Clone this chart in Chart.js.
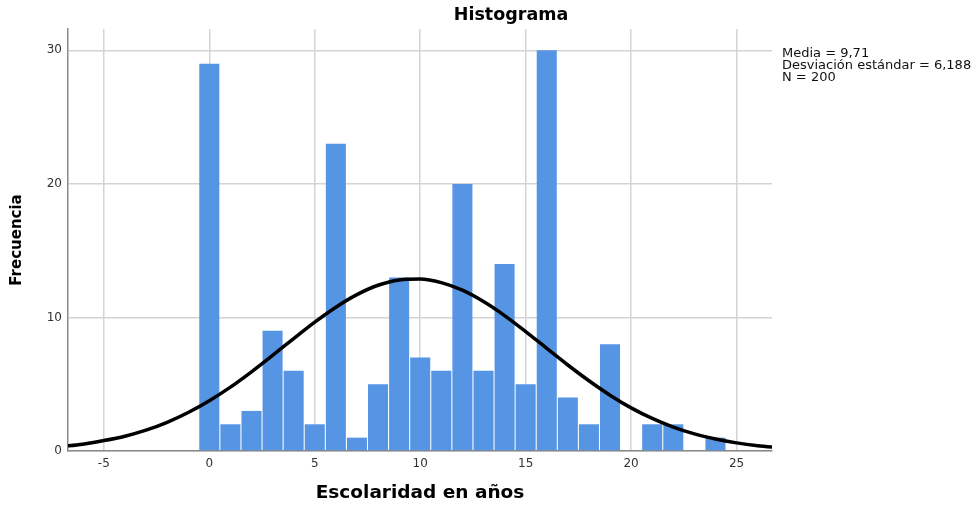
<!DOCTYPE html>
<html>
<head>
<meta charset="utf-8">
<script src="https://cdn.jsdelivr.net/npm/chart.js@4.4.1/dist/chart.umd.min.js"></script>
<style>
  html, body { margin: 0; padding: 0; background: #fff; }
  #wrap { width: 974px; height: 506px; position: relative; }
</style>
</head>
<body>
<div id="wrap"><canvas id="chart"></canvas></div>
<script>
// Histograma - frecuencias por años de escolaridad
const binCenters = [0, 1, 2, 3, 4, 5, 6, 7, 8, 9, 10, 11, 12, 13, 14, 15, 16, 17, 18, 19, 20, 21, 22, 23, 24];
const frecuencias = [29, 2, 3, 9, 6, 2, 23, 1, 5, 13, 7, 6, 20, 6, 14, 5, 30, 4, 2, 8, null, 2, 2, null, 1];

// curva normal
const curvaX = [-7, -6, -5, -4, -3, -2, -1, 0, 1, 2, 3, 4, 5, 6, 7, 8, 9, 10, 11, 12, 13, 14, 15, 16, 17, 18, 19, 20, 21, 22, 23, 24, 25, 26, 27];
const curvaY = [0.34, 0.51, 0.78, 1.11, 1.56, 2.15, 2.88, 3.76, 4.78, 5.93, 7.16, 8.42, 9.65, 10.77, 11.71, 12.41, 12.81, 12.88, 12.61, 12.04, 11.19, 10.14, 8.94, 7.69, 6.44, 5.26, 4.18, 3.23, 2.44, 1.79, 1.28, 0.90, 0.61, 0.40, 0.26];

const xTicks = [-5, 0, 5, 10, 15, 20, 25];
const yTicks = [0, 10, 20, 30];
const statLines = ['Media = 9,71', 'Desviación estándar = 6,188', 'N = 200'];

const FONT = "'DejaVu Sans', sans-serif";

// titulo y estadisticos (fuera del area del grafico)
const textosPlugin = {
    id: 'textos',
    afterDraw(chart) {
        const ctx = chart.ctx;
        ctx.save();
        ctx.fillStyle = '#000';
        ctx.textBaseline = 'middle';
        ctx.textAlign = 'center';
        ctx.font = 'bold 17.5px ' + FONT;
        ctx.fillText('Histograma', 511, 15);

        ctx.textAlign = 'left';
        ctx.fillStyle = '#111';
        ctx.font = '13px ' + FONT;
        statLines.forEach((t, i) => {
            ctx.fillText(t, 782, 54 + i * 12);
        });
        ctx.restore();
    }
};

new Chart(document.getElementById('chart'), {
    type: 'bar',
    data: {
        datasets: [
            {
                type: 'line',
                label: 'Normal',
                data: curvaX.map((x, i) => ({ x: x, y: curvaY[i] })),
                borderColor: '#000',
                borderWidth: 3.5,
                pointRadius: 0,
                tension: 0.4,
                cubicInterpolationMode: 'monotone',
                fill: false
            },
            {
                type: 'bar',
                label: 'Frecuencia',
                data: binCenters.map((x, i) => ({ x: x, y: frecuencias[i] })),
                backgroundColor: '#5694e4',
                borderWidth: 0,
                barPercentage: 0.95,
                categoryPercentage: 1.0
            }
        ]
    },
    options: {
        responsive: true,
        maintainAspectRatio: false,
        animation: false,
        layout: { padding: { left: 0, right: 202, top: 29, bottom: 0 } },
        plugins: {
            legend: { display: false },
            title: { display: false },
            tooltip: { enabled: false }
        },
        scales: {
            x: {
                type: 'linear',
                min: -6.7,
                max: 26.68,
                offset: false,
                afterBuildTicks: (s) => { s.ticks = xTicks.map(v => ({ value: v })); },
                afterFit: (s) => { s.height = 55; },
                grid: { color: '#d4d4d4', lineWidth: 1.5, drawTicks: false, offset: false },
                border: { display: true, color: '#8a8a8a', width: 1.5 },
                ticks: { color: '#333', font: { family: FONT, size: 12 }, padding: 6, maxRotation: 0 },
                title: {
                    display: true,
                    text: 'Escolaridad en años',
                    color: '#000',
                    font: { family: FONT, size: 18.5, weight: 'bold' },
                    padding: { top: 2, bottom: 2 }
                }
            },
            y: {
                type: 'linear',
                min: 0,
                max: 31.6,
                afterBuildTicks: (s) => { s.ticks = yTicks.map(v => ({ value: v })); },
                afterFit: (s) => { s.width = 68; },
                grid: { color: '#d4d4d4', lineWidth: 1.5, drawTicks: false },
                border: { display: true, color: '#8a8a8a', width: 1.5 },
                ticks: { color: '#333', font: { family: FONT, size: 12 }, padding: 6 },
                title: {
                    display: true,
                    text: 'Frecuencia',
                    color: '#000',
                    font: { family: FONT, size: 15, weight: 'bold' },
                    padding: { top: 8, bottom: 8 }
                }
            }
        }
    },
    plugins: [textosPlugin]
});
</script>
</body>
</html>
